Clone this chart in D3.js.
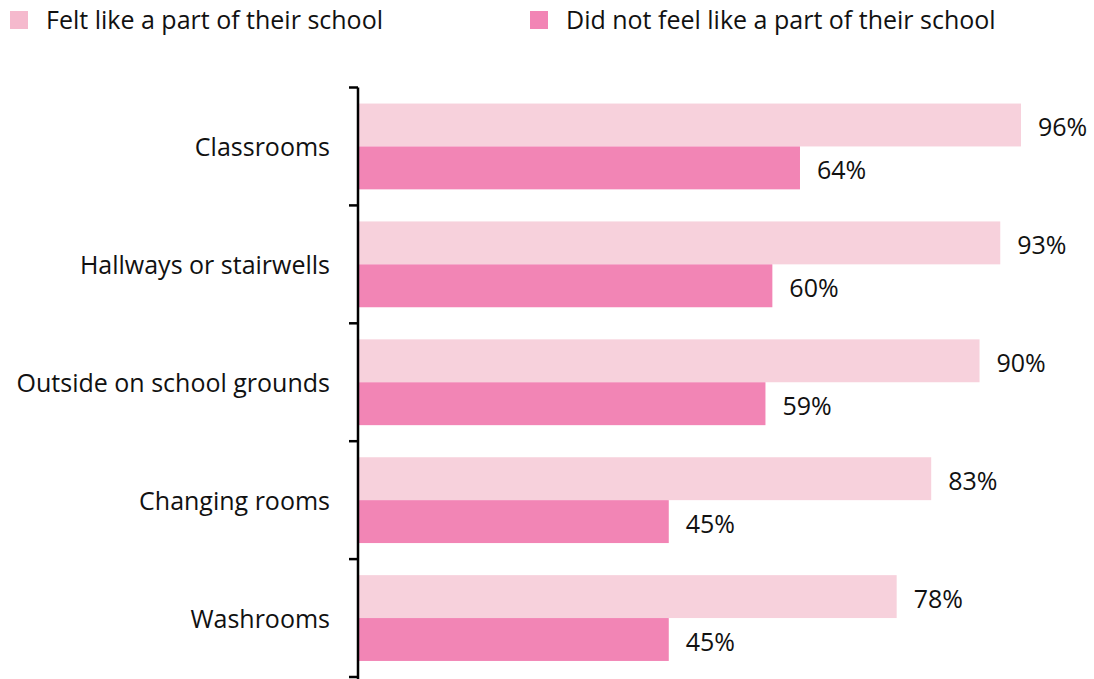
<!DOCTYPE html>
<html>
<head>
<meta charset="utf-8">
<script src="https://cdn.jsdelivr.net/npm/d3@7"></script>
<style>
  html, body { margin: 0; padding: 0; background: #fff; }
  svg { display: block; font-family: "Open Sans", Lato, sans-serif; }
</style>
</head>
<body>
<svg id="chart" width="1094" height="679"></svg>
<script>
// Places where students feel safe, by sense of belonging
const categories = ["Classrooms", "Hallways or stairwells", "Outside on school grounds", "Changing rooms", "Washrooms"];
const seriesNames = ["Felt like a part of their school", "Did not feel like a part of their school"];
const feltPart = [96, 93, 90, 83, 78];
const notFeltPart = [64, 60, 59, 45, 45];

const barColors = ["#f7d1dc", "#f285b5"];
const legendColors = ["#f5b9cd", "#f285b5"];
const fontFamily = "'Open Sans', Lato, sans-serif";

const svg = d3.select("#chart");

const x = d3.scaleLinear().domain([0, 100]).range([358, 1048.6]);
const y0 = d3.scaleBand().domain(categories).range([87.5, 677]).padding(0);
const y1 = d3.scaleBand().domain(seriesNames).range([0, y0.bandwidth()]).paddingInner(0).paddingOuter(0.374);

const rows = categories.map((c, i) => ({ cat: c, values: [feltPart[i], notFeltPart[i]] }));

const groups = svg.append("g").selectAll("g")
  .data(rows).join("g")
  .attr("transform", d => `translate(0,${y0(d.cat)})`);

groups.selectAll("rect")
  .data(d => d.values.map((v, j) => ({ v, s: seriesNames[j], j })))
  .join("rect")
  .attr("x", x(0))
  .attr("y", d => y1(d.s))
  .attr("width", d => x(d.v) - x(0))
  .attr("height", y1.bandwidth())
  .attr("fill", d => barColors[d.j]);

groups.selectAll("text.val")
  .data(d => d.values.map((v, j) => ({ v, s: seriesNames[j], j })))
  .join("text")
  .attr("class", "val")
  .attr("x", d => x(d.v) + 17)
  .attr("y", d => y1(d.s) + y1.bandwidth() / 2 + 2)
  .attr("dy", "0.38em")
  .attr("font-size", 25)
  .attr("fill", "#111")
  .text(d => d.v + "%");

// Category labels
const yAxis = d3.axisLeft(y0).tickSize(0).tickPadding(28);
const ag = svg.append("g").attr("transform", `translate(${x(0)},2)`).call(yAxis);
ag.select(".domain").remove();
ag.selectAll("text").attr("font-size", 25).attr("fill", "#111").attr("font-family", fontFamily);

// Axis spine with ticks on band boundaries
const boundaries = categories.map(c => y0(c)).concat([y0.range()[1]]);
svg.append("line")
  .attr("x1", x(0)).attr("x2", x(0))
  .attr("y1", y0.range()[0]).attr("y2", 679)
  .attr("stroke", "#000").attr("stroke-width", 2.5);
svg.append("g").selectAll("line")
  .data(boundaries).join("line")
  .attr("x1", x(0) - 9).attr("x2", x(0))
  .attr("y1", d => d).attr("y2", d => d)
  .attr("stroke", "#000").attr("stroke-width", 2.5);

// Legend
const legendX = [10, 530];
const lg = svg.append("g").selectAll("g")
  .data(seriesNames).join("g")
  .attr("transform", (d, i) => `translate(${legendX[i]},11)`);
lg.append("rect").attr("width", 18).attr("height", 18).attr("fill", (d, i) => legendColors[i]);
lg.append("text")
  .attr("x", 36).attr("y", 9).attr("dy", "0.36em")
  .attr("font-size", 25).attr("fill", "#111")
  .text(d => d);
</script>
</body>
</html>
